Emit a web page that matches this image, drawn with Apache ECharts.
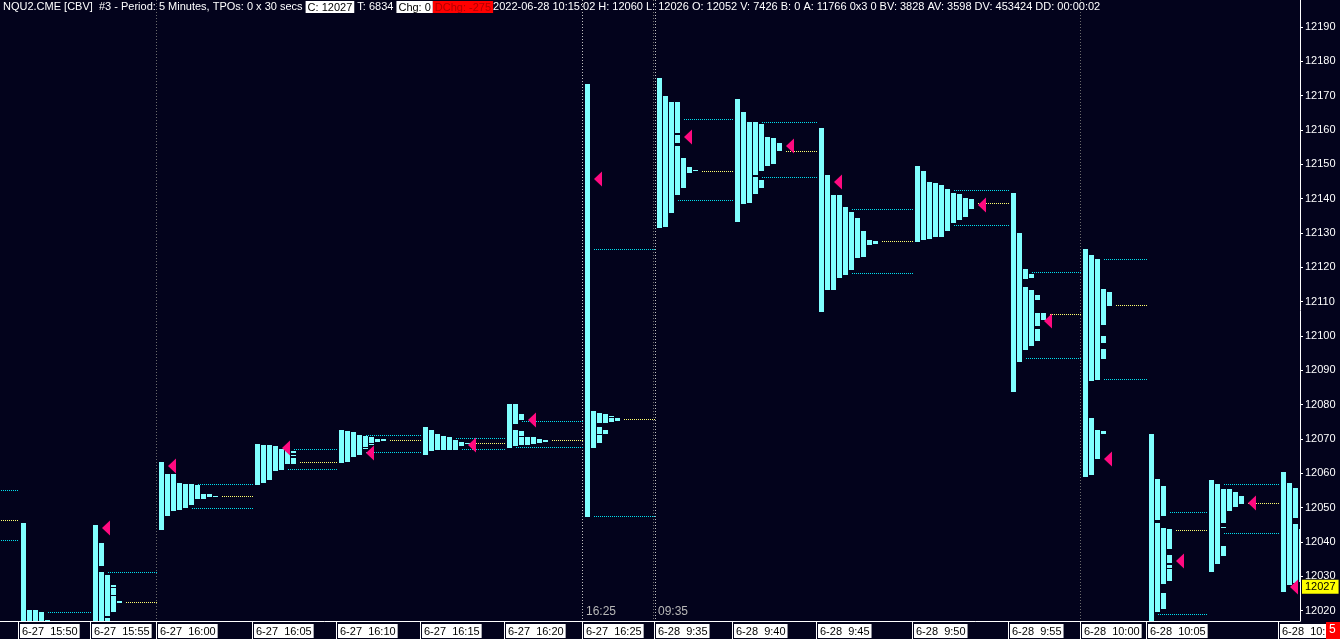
<!DOCTYPE html>
<html><head><meta charset="utf-8">
<script src="https://cdn.jsdelivr.net/npm/echarts@6/dist/echarts.min.js"></script>
<style>html,body{margin:0;padding:0;background:#03031c;}#c{width:1340px;height:639px;}</style>
</head><body><div id="c"></div>
<script>
// ---------------- DATA ----------------
const headerParts = ['NQU2.CME [CBV]  #3 - Period: 5 Minutes, TPOs: 0 x 30 secs', 'C: 12027', 'T: 6834', 'Chg: 0', 'DChg: -275',
  '2022-06-28 10:15:02 H: 12060 L: 12026 O: 12052 V: 7426 B: 0 A: 11766 0x3 0 BV: 3828 AV: 3598 DV: 453424 DD: 00:00:02'];
const lastPrice = 12027;
const timeLabels = ['6-27  15:50','6-27  15:55','6-27  16:00','6-27  16:05','6-27  16:10','6-27  16:15','6-27  16:20','6-27  16:25',
  '6-28  9:35','6-28  9:40','6-28  9:45','6-28  9:50','6-28  9:55','6-28  10:00','6-28  10:05','6-28  10:10','6-28  10:15'];
const hiddenLabels = ['6-28  10:10'];
// column slot index where each 5-minute profile starts (one slot = one TPO column)
const profileSlots = [4,16,27,43,57,71,85,98,110,123,137,153,169,181,192,202,214];
const yTicks = [12020,12030,12040,12050,12060,12070,12080,12090,12100,12110,12120,12130,12140,12150,12160,12170,12180,12190];

// TPO columns: each column is a list of [low, high] price segments
const p1550 = [[[12010,12045.5]],[[12010,12020.2]],[[12010,12020.2]],[[12010,12019.6]],[[12010,12017.3]]];
const p1555 = [[[12010,12045.0]],[[12010,12031.3],[12033.0,12039.7]],[[12010,12017.9],[12018.5,12030.4]],
  [[12019.6,12024.3],[12024.6,12026.6],[12026.9,12027.5]],[[12022.3,12022.9]]];
const p1600 = [[[12043.5,12063.3]],[[12047.6,12059.8]],[[12049.0,12059.8]],[[12049.3,12057.2]],[[12049.8,12056.9]],
  [[12050.8,12056.9]],[[12052.5,12056.6]],[[12052.5,12054.0]],[[12053.1,12054.0]],[[12053.2,12053.5]]];
const p1605 = [[[12056.6,12068.5]],[[12057.2,12068.3]],[[12058.1,12068.3]],[[12060.7,12068.0]],[[12061.0,12067.1]],
  [[12062.7,12067.0]],[[12062.7,12064.5],[12064.9,12065.2],[12065.9,12066.5]]];
const p1610 = [[[12063.0,12072.6]],[[12063.3,12072.3]],[[12064.8,12072.0]],[[12065.3,12071.2]],[[12067.1,12067.3],[12067.7,12070.9]],
  [[12068.4,12068.6],[12068.9,12070.6]],[[12069.1,12070.0]],[[12069.5,12069.9]]];
const p1615 = [[[12065.3,12073.5]],[[12066.5,12072.6]],[[12066.8,12071.5]],[[12066.9,12070.9]],[[12066.9,12070.6]],
  [[12066.9,12069.7]],[[12068.0,12069.1]],[[12068.5,12068.8]]];
const p1620 = [[[12067.4,12080.2]],[[12068.0,12072.6],[12074.4,12080.2]],[[12068.3,12070.6],[12070.9,12072.3],[12075.5,12077.3]],
  [[12068.3,12070.6]],[[12068.5,12070.6]],[[12068.8,12070.0]],[[12069.1,12069.7]]];
const p1625 = [[[12047.3,12173.4]],[[12067.4,12078.2]],[[12068.8,12071.2],[12071.5,12073.5],[12074.7,12077.6]],
  [[12071.5,12072.6],[12074.7,12077.3]],[[12075.0,12076.1],[12076.5,12076.7]],[[12075.2,12076.1]]];
const p0935 = [[[12131.4,12175.1]],[[12131.7,12169.9]],[[12135.8,12168.1]],[[12141.1,12155.3],[12156.2,12158.5],[12159.1,12168.1]],
  [[12143.1,12151.8]],[[12147.5,12149.2]],[[12147.9,12148.2]]];
const p0940 = [[[12133.2,12169.0]],[[12138.4,12165.2]],[[12138.7,12162.3]],[[12141.3,12146.3],[12146.9,12162.3]],
  [[12143.1,12145.4],[12148.0,12161.7]],[[12149.5,12157.9]],[[12150.1,12157.7]],[[12153.7,12156.2]]];
const p0945 = [[[12107.0,12160.6]],[[12113.4,12146.9]],[[12113.4,12141.1]],[[12116.9,12141.1]],[[12117.8,12137.6]],
  [[12119.2,12136.1]],[[12122.7,12134.4]],[[12123.0,12130.6]],[[12126.5,12128.0]],[[12126.8,12127.7]]];
const p0950 = [[[12127.4,12149.5]],[[12128.0,12148.0]],[[12128.2,12144.8]],[[12128.8,12144.5]],[[12128.8,12144.0]],
  [[12130.6,12142.8]],[[12132.9,12141.6]],[[12133.8,12141.3]],[[12134.6,12140.2]],[[12137.0,12139.9]]];
const p0955 = [[[12083.7,12141.6]],[[12092.4,12130.0]],[[12095.9,12114.3],[12116.6,12119.5]],[[12097.1,12113.4],[12116.9,12118.0]],
  [[12098.5,12102.0],[12102.9,12106.7],[12110.5,12111.9]],[[12104.7,12106.7]]];
const p1000 = [[[12058.9,12125.3]],[[12059.5,12076.1],[12086.9,12123.6]],[[12064.2,12072.6],[12087.2,12122.4]],
  [[12071.5,12072.3],[12093.3,12096.2],[12098.0,12100.0],[12103.2,12113.7]],[[12108.8,12112.8]]];
const p1005 = [[[12010,12071.5]],[[12019.6,12045.5],[12046.4,12058.4]],[[12020.5,12025.2],[12027.8,12044.1],[12047.6,12056.3]],
  [[12028.6,12032.1],[12032.4,12033.3],[12033.9,12036.2],[12038.0,12043.8]]];
const p1010 = [[[12031.3,12058.1]],[[12033.6,12056.9]],[[12035.9,12038.8],[12044.3,12044.5],[12045.5,12055.4]],
  [[12049.0,12055.4]],[[12050.2,12054.6]],[[12051.1,12053.4]]];
const p1015 = [[[12025.4,12060.4]],[[12027.5,12057.2]],[[12028.1,12045.2],[12047.0,12055.7]],[[12028.5,12043.8]]];
const profiles = [p1550,p1555,p1600,p1605,p1610,p1615,p1620,p1625,p0935,p0940,p0945,p0950,p0955,p1000,p1005,p1010,p1015];

// value area high / point of control / value area low / close of each profile
const vah = [12019.5,12031.2,12056.8,12067.0,12071.1,12070.2,12075.2,12125.2,12163.1,12162.2,12136.9,12142.4,12118.5,12122.3,12048.7,12056.8,null];
const poc = [null,12022.4,12053.3,12063.2,12069.6,12068.7,12069.6,12075.7,12148.0,12153.8,12127.6,12138.6,12106.3,12108.9,12043.4,12051.3,null];
const val = [null,null,12049.8,12061.2,12066.1,12067.0,12067.6,12047.5,12139.5,12146.2,12118.3,12132.2,12093.5,12087.4,12019.0,12042.5,null];
const closes = [null,12044.2,12062.0,12067.3,12065.8,12068.1,12075.6,12145.6,12157.8,12155.2,12144.7,12138.0,12104.2,12064.3,12034.6,12051.5,12027.0];
// previous (off-screen) profile's VAH / POC / VAL
const prevVA = [12055.1,12046.3,12040.5];
// session dividers (profile index) and their captions
const sessionBreaks = [2,7,8,13];
const sessionKinds = [0,1,2,0];
const sessionTexts = ['','16:25','09:35',''];

// ---------------- BUILD ----------------
const BG = '#03031c', BAR = '#80ffff', CYAN = '#00e0ee', YEL = '#ffff70', MAG = '#ff0a80';
const FONT = 'Liberation Sans, Arial, sans-serif';

const barData = [];
profiles.forEach((cols, pi) => cols.forEach((segs, ci) => segs.forEach(([lo, hi]) => barData.push([profileSlots[pi] + ci, lo, hi]))));

function lastCover(cols, price) {
  let r = -1;
  cols.forEach((segs, ci) => { if (segs.some(([lo, hi]) => lo <= price && price <= hi)) r = ci; });
  return r;
}
function markSlot(pi, price) { return profileSlots[pi] + lastCover(profiles[pi], price) + 1.5; }

const lineData = [];
prevVA.forEach((p, k) => lineData.push([0, profileSlots[0] - 1/3, p, k === 1 ? 1 : 0]));
profiles.forEach((cols, pi) => {
  if (pi + 1 >= profiles.length) return;
  const end = profileSlots[pi + 1] - 1/3;
  [[vah[pi],0],[poc[pi],1],[val[pi],0]].forEach(([p, k]) => { if (p != null) lineData.push([markSlot(pi, p), end, p, k]); });
});
const triData = [];
closes.forEach((c, pi) => { if (c != null) triData.push([markSlot(pi, c), c]); });
const sessData = sessionBreaks.map((pi, k) => [profileSlots[pi] - 0.5, sessionKinds[k], k]);

const labelVals = profileSlots.map(s => s - 0.5);
const labelShown = labelVals.filter((v, i) => !hiddenLabels.includes(timeLabels[i]));

const chart = echarts.init(document.getElementById('c'));
chart.setOption({
  backgroundColor: BG,
  animation: false,
  title: {
    left: 3, top: 1, padding: 0,
    text: '{w|' + headerParts[0] + '} {b|' + headerParts[1] + '} {w|' + headerParts[2] + '} {b|' + headerParts[3] + '}{r|' + headerParts[4] + '}{w|' + headerParts[5] + '}',
    textStyle: {
      fontFamily: FONT, fontSize: 11, fontWeight: 'normal', color: '#fff',
      rich: {
        w: { color: '#ffffff', fontFamily: FONT, fontSize: 11 },
        b: { color: '#000', backgroundColor: '#fff', padding: [1, 2, 0, 2], fontFamily: FONT, fontSize: 11 },
        r: { color: '#b00000', backgroundColor: '#ff0000', padding: [1, 2, 0, 2], fontFamily: FONT, fontSize: 11 }
      }
    }
  },
  grid: { left: 0, right: 40, top: 0, bottom: 18, containLabel: false, outerBoundsMode: 'none' },
  xAxis: {
    type: 'value', min: 0.5, max: 0.5 + 1300 / 6,
    splitLine: { show: false },
    axisLine: { lineStyle: { color: '#ffffff', width: 1 } },
    axisTick: { show: true, customValues: labelShown, length: 18, lineStyle: { color: '#ffffff' } },
    axisLabel: {
      customValues: labelShown, align: 'left', verticalAlign: 'top', margin: 3, hideOverlap: false,
      formatter: v => '{a|' + timeLabels[labelVals.indexOf(v)] + '}',
      padding: [0, 0, 0, 2],
      rich: { a: { color: '#000', backgroundColor: '#fff', fontFamily: FONT, fontSize: 11, padding: [2, 2, 1, 2] } }
    }
  },
  yAxis: {
    type: 'value', position: 'right', min: 12017, max: 12197.8,
    splitLine: { show: false },
    axisLine: { show: true, lineStyle: { color: '#ffffff' } },
    axisTick: { show: true, customValues: yTicks, length: 3, lineStyle: { color: '#ffffff' } },
    axisLabel: { customValues: yTicks, formatter: v => String(v), color: '#ffffff', fontFamily: FONT, fontSize: 11, margin: 5 }
  },
  series: [
    {
      type: 'custom', name: 'sessions', data: sessData, clip: false, silent: true,
      renderItem(params, api) {
        const cs = params.coordSys;
        const x = Math.round(api.coord([api.value(0), 12100])[0]);
        const kind = api.value(1), k = api.value(2);
        const mk = (xx, color) => ({ type: 'line', shape: { x1: xx + 0.5, y1: cs.y, x2: xx + 0.5, y2: cs.y + cs.height },
          style: { stroke: color, lineWidth: 1, lineDash: [1, 2] } });
        const ch = [];
        if (kind === 2) { ch.push(mk(x - 1, '#6a6a6a')); ch.push(mk(x + 1, '#c0c0c0')); }
        else ch.push(mk(x, kind === 1 ? '#c0c0c0' : '#6a6a6a'));
        if (sessionTexts[k]) ch.push({ type: 'text', x: x + 4, y: cs.y + cs.height - 3,
          style: { text: sessionTexts[k], fill: '#b8b8b8', font: '12px ' + FONT, textVerticalAlign: 'bottom' } });
        return { type: 'group', children: ch };
      }
    },
    {
      type: 'custom', name: 'tpo', data: barData, clip: true, silent: true,
      encode: { x: 0, y: [1, 2] },
      renderItem(params, api) {
        const s = api.value(0), lo = api.value(1), hi = api.value(2);
        const a = api.coord([s, hi]), b = api.coord([s + 5 / 6, lo]);
        const x = Math.round(a[0]), y = Math.round(a[1]);
        const w = Math.round(b[0]) - x, h = Math.max(1, Math.round(b[1]) - y);
        return { type: 'rect', shape: { x, y, width: w, height: h }, style: { fill: BAR } };
      }
    },
    {
      type: 'custom', name: 'va', data: lineData, clip: true, silent: true,
      encode: { x: [0, 1], y: 2 },
      renderItem(params, api) {
        const a = api.coord([api.value(0), api.value(2)]), b = api.coord([api.value(1), api.value(2)]);
        const y = Math.round(a[1]) + 0.5;
        return { type: 'line', shape: { x1: Math.round(a[0]), y1: y, x2: Math.round(b[0]), y2: y },
          style: { stroke: api.value(3) === 1 ? YEL : CYAN, lineWidth: 1, lineDash: [1, 1] } };
      }
    },
    {
      type: 'custom', name: 'close', data: triData, clip: true, silent: true,
      encode: { x: 0, y: 1 },
      renderItem(params, api) {
        const p = api.coord([api.value(0), api.value(1)]);
        const x = Math.round(p[0]), y = Math.round(p[1]);
        return { type: 'polygon', shape: { points: [[x, y], [x + 8, y - 7.5], [x + 8, y + 7.5]] }, style: { fill: MAG } };
      }
    },
    {
      type: 'line', name: 'last', data: [], silent: true, symbol: 'none',
      markLine: {
        silent: true, symbol: ['none', 'none'], animation: false, precision: 0,
        lineStyle: { color: 'rgba(0,0,0,0)', width: 0, type: 'solid' },
        label: { show: true, position: 'end', distance: 2, formatter: String(lastPrice), color: '#000', backgroundColor: '#ffff00',
          padding: [2, 3, 1, 3], fontFamily: FONT, fontSize: 11 },
        data: [{ yAxis: lastPrice }]
      }
    }
  ],
  graphic: [
    { type: 'rect', left: 1326, top: 622, shape: { width: 14, height: 17 }, style: { fill: '#ff0000' }, z: 100 },
    { type: 'text', left: 1329, top: 624, style: { text: '5', fill: '#ffffff', font: '12px ' + FONT }, z: 101 }
  ]
});
</script></body></html>
